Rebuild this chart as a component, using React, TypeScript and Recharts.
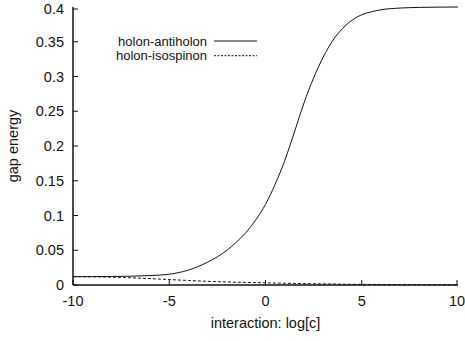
import { LineChart, Line, XAxis, YAxis, Legend } from 'recharts'

const logC = [-10, -9, -8, -7, -6, -5, -4, -3, -2, -1.5, -1, -0.5, 0, 0.5, 1, 1.5, 2, 2.5, 3, 3.5, 4, 4.5, 5, 5.5, 6, 7, 8, 9, 10]
const antiholon = [0.012, 0.0121, 0.0123, 0.0127, 0.0136, 0.0155, 0.0215, 0.033, 0.05, 0.062, 0.076, 0.094, 0.116, 0.145, 0.179, 0.22, 0.262, 0.298, 0.328, 0.352, 0.369, 0.381, 0.389, 0.393, 0.396, 0.3985, 0.3994, 0.3998, 0.4]
const isospinon = [0.012, 0.0118, 0.0113, 0.0104, 0.0092, 0.0078, 0.0065, 0.0053, 0.0044, 0.004, 0.0037, 0.0034, 0.0031, 0.0028, 0.0025, 0.0022, 0.002, 0.0018, 0.0016, 0.0014, 0.0012, 0.001, 0.0009, 0.0008, 0.0007, 0.0005, 0.0004, 0.0003, 0.0002]

const xTicks = [-10, -5, 0, 5, 10]
const yTicks = [0, 0.05, 0.1, 0.15, 0.2, 0.25, 0.3, 0.35, 0.4]

const seriesNames = ['holon-antiholon', 'holon-isospinon']

const data = logC.map((x, i) => ({ x, antiholon: antiholon[i], isospinon: isospinon[i] }))

const FONT = '"Liberation Sans", Arial, sans-serif'
const INK = '#111'
const TICK = 5

const BottomTick = ({ x, y, payload }: any) => (
  <g>
    <line x1={x} y1={y} x2={x} y2={y - TICK} stroke={INK} />
    <text x={x} y={y + 16} textAnchor="middle" dominantBaseline="central" fontFamily={FONT} fontSize={14.5} fill={INK}>
      {payload.value}
    </text>
  </g>
)

const TopTick = ({ x, y }: any) => <line x1={x} y1={y} x2={x} y2={y + TICK} stroke={INK} />

const LeftTick = ({ x, y, payload }: any) => (
  <g>
    <line x1={x} y1={y} x2={x + TICK} y2={y} stroke={INK} />
    <text x={x - 9} y={y} textAnchor="end" dominantBaseline="central" fontFamily={FONT} fontSize={14.5} fill={INK}>
      {payload.value}
    </text>
  </g>
)

const RightTick = ({ x, y }: any) => <line x1={x} y1={y} x2={x - TICK} y2={y} stroke={INK} />

// legend rows a bit looser than the original so labels don't collide
const ROW = 14.7

const KeyBox = () => (
  <svg width={170} height={34}>
    {seriesNames.map((name, i) => (
      <g key={name}>
        <text x={107} y={7 + i * ROW} textAnchor="end" dominantBaseline="central" fontFamily={FONT} fontSize={13} fill={INK}>
          {name}
        </text>
        <line x1={114} x2={157} y1={7 + i * ROW} y2={7 + i * ROW} stroke={INK} strokeWidth={1} strokeDasharray={i === 1 ? '2 1.5' : undefined} />
      </g>
    ))}
  </svg>
)

export default function App() {
  return (
    <div style={{ position: 'absolute', left: 0, top: 0, background: '#fff' }}>
      <LineChart width={465} height={341} data={data} margin={{ top: 7, right: 7, left: 13, bottom: 0 }}>
        <XAxis
          dataKey="x"
          type="number"
          domain={[-10, 10]}
          ticks={xTicks}
          height={56}
          tickSize={0}
          tickMargin={0}
          tickLine={false}
          axisLine={{ stroke: INK, strokeWidth: 1.5 }}
          tick={<BottomTick />}
          label={{
            content: ({ viewBox }: any) => (
              <text x={viewBox.x + viewBox.width / 2} y={viewBox.y + 38} textAnchor="middle" dominantBaseline="central" fontFamily={FONT} fontSize={14.5} fill={INK}>
                interaction: log[c]
              </text>
            ),
          }}
        />
        <XAxis
          xAxisId="top"
          orientation="top"
          dataKey="x"
          type="number"
          domain={[-10, 10]}
          ticks={xTicks}
          height={0}
          tickSize={0}
          tickMargin={0}
          tickLine={false}
          axisLine={{ stroke: INK, strokeWidth: 1.5 }}
          tick={<TopTick />}
        />
        <YAxis
          domain={[0, 0.4]}
          ticks={yTicks}
          width={60}
          tickSize={0}
          tickMargin={0}
          tickLine={false}
          axisLine={{ stroke: INK, strokeWidth: 1.5 }}
          tick={<LeftTick />}
          label={{
            content: ({ viewBox }: any) => {
              const cx = viewBox.x
              const cy = viewBox.y + viewBox.height / 2
              return (
                <text x={cx} y={cy} transform={`rotate(-90 ${cx} ${cy})`} textAnchor="middle" dominantBaseline="central" fontFamily={FONT} fontSize={14.5} fill={INK}>
                  gap energy
                </text>
              )
            },
          }}
        />
        <YAxis
          yAxisId="right"
          orientation="right"
          domain={[0, 0.4]}
          ticks={yTicks}
          width={0}
          tickSize={0}
          tickMargin={0}
          tickLine={false}
          axisLine={{ stroke: INK, strokeWidth: 1.5 }}
          tick={<RightTick />}
        />
        <Legend
          layout="horizontal"
          verticalAlign="middle"
          align="center"
          content={<KeyBox />}
          wrapperStyle={{ left: 100, top: 34, width: 170, height: 34 }}
        />
        <Line type="monotone" dataKey="antiholon" stroke={INK} strokeWidth={1} dot={false} isAnimationActive={false} />
        <Line type="monotone" dataKey="isospinon" stroke={INK} strokeWidth={1} strokeDasharray="3 2" dot={false} isAnimationActive={false} />
      </LineChart>
    </div>
  )
}
